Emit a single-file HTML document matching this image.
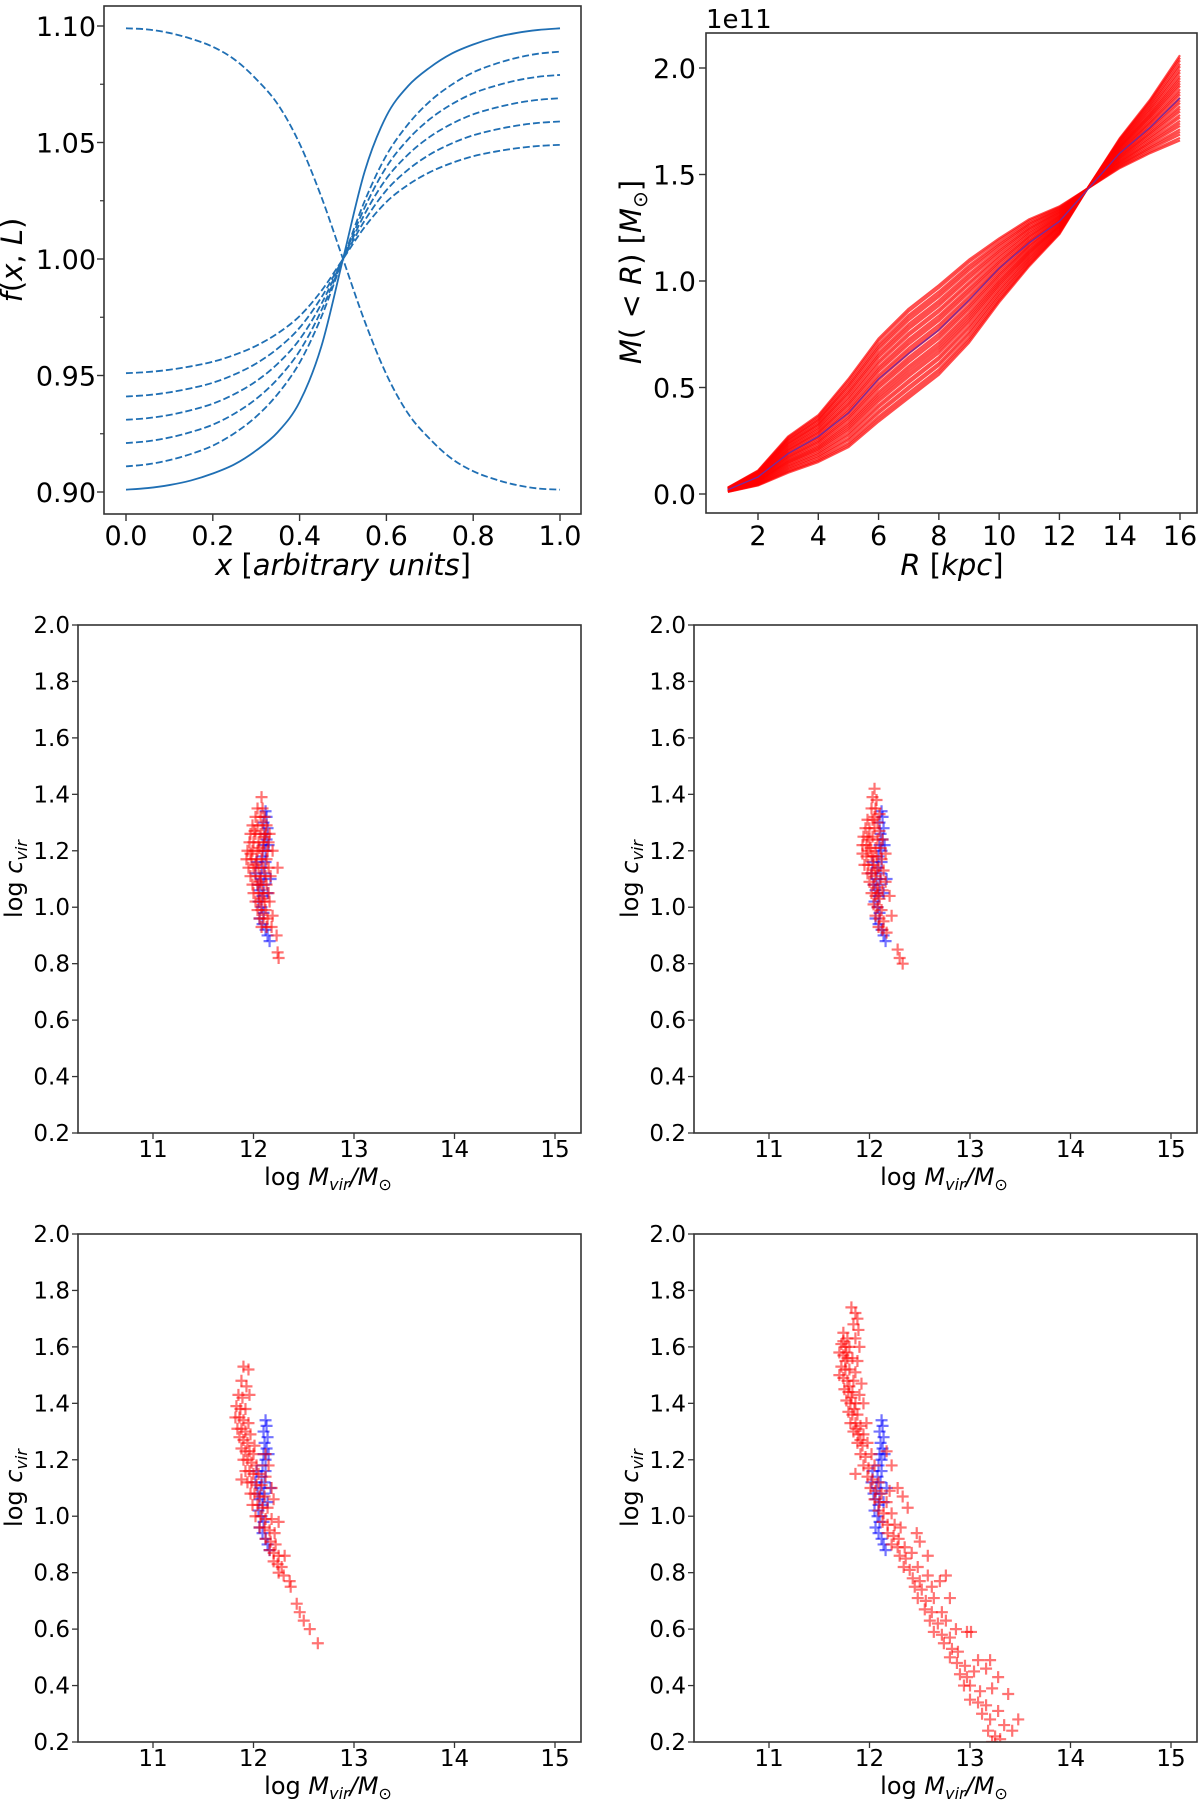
<!DOCTYPE html>
<html><head><meta charset="utf-8">
<style>
html,body{margin:0;padding:0;background:#fff;}
svg{display:block;font-family:"DejaVu Sans","Liberation Sans",sans-serif;}
</style></head>
<body>
<svg id="fig" width="1200" height="1800" viewBox="0 0 1200 1800" xmlns="http://www.w3.org/2000/svg"></svg>
<script>
// ---------- Panel 1 data: f(x,L) ----------
const p1X = [0,0.05,0.1,0.15,0.2,0.25,0.3,0.35,0.4,0.45,0.5,0.55,0.6,0.65,0.7,0.75,0.8,0.85,0.9,0.95,1.0];
const p1SolidShape = [-1,-0.993,-0.98,-0.96,-0.93,-0.89,-0.83,-0.75,-0.62,-0.38,0,0.38,0.62,0.75,0.83,0.89,0.93,0.96,0.98,0.993,1];
const p1DashShape = [-1,-0.99,-0.97,-0.94,-0.9,-0.84,-0.76,-0.65,-0.5,-0.28,0,0.28,0.5,0.65,0.76,0.84,0.9,0.94,0.97,0.99,1];
const p1DecShape = [1,0.995,0.98,0.955,0.92,0.865,0.78,0.67,0.5,0.27,0,-0.27,-0.5,-0.67,-0.78,-0.865,-0.92,-0.955,-0.98,-0.995,-1];
const p1SolidAmp = [0.099];
const p1DashAmps = [0.089,0.079,0.069,0.059,0.049];
const p1DecAmp = [0.099];
const p1YTicks = [0.90,0.95,1.00,1.05,1.10];
const p1YMinor = [0.925,0.975,1.025,1.075];
const p1XTicks = [0.0,0.2,0.4,0.6,0.8,1.0];

// ---------- Panel 2 data: M(<R) ----------
const p2R = [1,2,3,4,5,6,7,8,9,10,11,12,13,14,15,16];
const p2Upper = [0.03,0.11,0.27,0.37,0.54,0.73,0.87,0.98,1.10,1.20,1.29,1.35,1.44,1.53,1.60,1.66];
const p2Lower = [0.01,0.04,0.10,0.15,0.22,0.34,0.45,0.56,0.71,0.90,1.07,1.22,1.45,1.67,1.85,2.06];
const p2Mean = [0.02,0.08,0.19,0.27,0.38,0.54,0.66,0.77,0.91,1.06,1.18,1.28,1.44,1.60,1.72,1.86];
const p2Mix = [0,0.03,0.06,0.1,0.13,0.17,0.2,0.24,0.27,0.3,0.33,0.36,0.4,0.43,0.46,0.5,0.53,0.56,0.6,0.63,0.66,0.7,0.73,0.77,0.8,0.83,0.87,0.9,0.93,0.97,1];
const p2YTicks = [0.0,0.5,1.0,1.5,2.0];
const p2XTicks = [2,4,6,8,10,12,14,16];

// ---------- Scatter data (log Mvir, log cvir) ----------
const scXTicks = [11,12,13,14,15];
const scYTicks = [0.2,0.4,0.6,0.8,1.0,1.2,1.4,1.6,1.8,2.0];
const blueMvir = [12.12,12.13,12.10,12.14,12.11,12.13,12.10,12.12,12.09,12.12,12.08,12.11,12.07,12.10,12.06,12.09,12.05,12.08,12.10,12.06,12.09,12.12,12.14,12.16,12.04,12.02,12.03,12.15,12.17,12.14];
const blueCvir = [1.34,1.32,1.30,1.28,1.26,1.24,1.22,1.20,1.18,1.16,1.14,1.12,1.10,1.08,1.06,1.04,1.02,1.00,0.98,0.96,0.94,0.92,0.90,0.88,1.08,1.12,1.16,1.22,1.10,1.05];

const redA = [[12.08,1.39],[12.04,1.35],[12.09,1.35],[12.02,1.32],[12.07,1.32],[12.11,1.32],[11.99,1.29],[12.04,1.29],[12.09,1.29],[12.13,1.29],[11.97,1.26],[12.02,1.26],[12.07,1.26],[12.12,1.26],[12.16,1.26],[11.96,1.23],[12.00,1.23],[12.05,1.23],[12.10,1.23],[12.15,1.23],[11.94,1.20],[11.99,1.20],[12.04,1.20],[12.09,1.20],[12.14,1.20],[12.19,1.20],[11.93,1.17],[11.98,1.17],[12.03,1.17],[12.08,1.17],[12.13,1.17],[12.24,1.14],[11.95,1.14],[12.00,1.14],[12.05,1.14],[12.10,1.14],[12.15,1.14],[11.97,1.11],[12.02,1.11],[12.07,1.11],[12.12,1.11],[12.17,1.11],[11.99,1.08],[12.04,1.08],[12.08,1.08],[12.13,1.08],[12.00,1.05],[12.05,1.05],[12.10,1.05],[12.15,1.05],[12.02,1.02],[12.06,1.02],[12.11,1.02],[12.16,1.02],[12.04,0.99],[12.08,0.99],[12.12,0.99],[12.19,0.97],[12.06,0.96],[12.10,0.96],[12.14,0.96],[12.08,0.93],[12.13,0.93],[12.18,0.93],[12.23,0.90],[12.24,0.84],[12.25,0.82],[12.01,1.27],[12.06,1.21],[12.02,1.15],[12.06,1.09],[12.08,1.03],[11.97,1.19],[12.11,1.25]];
const redB = [[12.05,1.42],[12.03,1.39],[12.07,1.38],[12.02,1.35],[12.06,1.35],[12.10,1.33],[11.98,1.31],[12.03,1.31],[12.08,1.30],[11.96,1.28],[12.00,1.28],[12.05,1.28],[12.10,1.27],[11.94,1.25],[11.98,1.25],[12.03,1.25],[12.08,1.24],[12.13,1.24],[11.93,1.22],[11.97,1.22],[12.01,1.21],[12.06,1.21],[12.11,1.21],[12.16,1.19],[11.93,1.19],[11.97,1.18],[12.02,1.18],[12.07,1.18],[12.12,1.17],[11.95,1.15],[11.99,1.15],[12.04,1.15],[12.09,1.14],[12.14,1.13],[11.98,1.12],[12.02,1.12],[12.06,1.11],[12.11,1.10],[12.16,1.09],[12.00,1.09],[12.04,1.08],[12.08,1.07],[12.13,1.06],[12.02,1.05],[12.06,1.04],[12.10,1.03],[12.20,1.04],[12.04,1.01],[12.08,1.00],[12.12,0.99],[12.22,0.97],[12.06,0.97],[12.10,0.96],[12.14,0.95],[12.09,0.93],[12.13,0.92],[12.17,0.91],[12.28,0.85],[12.30,0.82],[12.33,0.80],[12.00,1.24],[12.04,1.18],[12.06,1.13],[12.08,1.05],[11.99,1.20],[12.05,1.32]];
const redC = [[11.90,1.53],[11.95,1.52],[11.88,1.48],[11.93,1.46],[11.96,1.43],[11.85,1.43],[11.89,1.42],[11.83,1.39],[11.87,1.38],[11.92,1.38],[11.82,1.35],[11.86,1.35],[11.90,1.34],[11.95,1.33],[11.84,1.31],[11.88,1.31],[11.92,1.30],[11.97,1.29],[11.86,1.28],[11.90,1.27],[11.94,1.26],[12.01,1.25],[11.88,1.24],[11.92,1.23],[11.96,1.23],[12.00,1.22],[12.12,1.22],[11.90,1.20],[11.94,1.20],[11.98,1.19],[12.03,1.18],[12.15,1.18],[11.92,1.16],[11.96,1.16],[12.00,1.15],[12.05,1.15],[12.12,1.14],[11.88,1.13],[11.94,1.12],[11.98,1.12],[12.03,1.11],[12.08,1.11],[12.18,1.10],[11.97,1.08],[12.01,1.08],[12.06,1.07],[12.11,1.07],[12.20,1.06],[11.99,1.04],[12.04,1.04],[12.09,1.03],[12.14,1.03],[12.02,1.00],[12.07,1.00],[12.12,0.99],[12.18,0.99],[12.25,0.98],[12.06,0.96],[12.11,0.96],[12.16,0.95],[12.21,0.94],[12.12,0.92],[12.17,0.91],[12.22,0.90],[12.16,0.88],[12.20,0.87],[12.25,0.86],[12.31,0.86],[12.20,0.84],[12.24,0.83],[12.28,0.82],[12.25,0.80],[12.30,0.79],[12.36,0.77],[12.37,0.75],[12.43,0.69],[12.46,0.66],[12.50,0.63],[12.56,0.60],[12.64,0.55]];
const redD = [[11.82,1.74],[11.86,1.72],[11.88,1.70],[11.84,1.68],[11.89,1.66],[11.74,1.65],[11.78,1.63],[11.86,1.63],[11.72,1.61],[11.76,1.60],[11.80,1.60],[11.90,1.60],[11.70,1.58],[11.74,1.57],[11.78,1.56],[11.83,1.56],[11.88,1.55],[11.72,1.53],[11.76,1.52],[11.80,1.52],[11.86,1.51],[11.70,1.50],[11.74,1.49],[11.78,1.48],[11.84,1.48],[11.92,1.47],[11.75,1.45],[11.79,1.44],[11.83,1.44],[11.90,1.43],[11.77,1.41],[11.81,1.40],[11.86,1.40],[11.94,1.40],[11.79,1.37],[11.83,1.36],[11.88,1.36],[11.81,1.33],[11.86,1.33],[11.91,1.32],[11.97,1.33],[11.84,1.30],[11.89,1.29],[11.94,1.29],[11.88,1.26],[11.93,1.25],[11.98,1.26],[11.91,1.22],[11.96,1.21],[12.02,1.22],[12.17,1.23],[11.94,1.18],[11.99,1.17],[12.05,1.18],[12.22,1.18],[11.86,1.15],[11.98,1.14],[12.03,1.13],[12.09,1.12],[12.01,1.10],[12.06,1.09],[12.12,1.08],[12.20,1.09],[12.28,1.10],[12.05,1.06],[12.10,1.05],[12.17,1.05],[12.33,1.07],[12.09,1.02],[12.14,1.01],[12.22,1.01],[12.38,1.03],[12.13,0.98],[12.18,0.97],[12.25,0.97],[12.31,0.96],[12.18,0.94],[12.24,0.93],[12.29,0.92],[12.47,0.94],[12.22,0.90],[12.28,0.89],[12.35,0.89],[12.50,0.91],[12.30,0.86],[12.36,0.85],[12.42,0.87],[12.58,0.86],[12.34,0.82],[12.40,0.81],[12.48,0.82],[12.43,0.78],[12.50,0.77],[12.58,0.79],[12.76,0.79],[12.45,0.75],[12.52,0.74],[12.62,0.75],[12.70,0.77],[12.48,0.71],[12.56,0.70],[12.64,0.71],[12.80,0.71],[12.55,0.67],[12.62,0.66],[12.72,0.66],[12.60,0.63],[12.68,0.62],[12.76,0.63],[12.86,0.60],[12.64,0.59],[12.72,0.58],[12.80,0.57],[12.97,0.59],[12.74,0.55],[12.82,0.53],[12.88,0.52],[13.01,0.59],[12.80,0.50],[12.87,0.48],[12.95,0.47],[13.08,0.49],[13.20,0.49],[12.90,0.44],[12.97,0.43],[13.04,0.45],[13.16,0.46],[13.28,0.43],[12.94,0.40],[13.00,0.40],[13.10,0.38],[13.22,0.39],[13.38,0.37],[13.00,0.35],[13.08,0.34],[13.16,0.33],[13.28,0.31],[13.12,0.30],[13.20,0.28],[13.34,0.26],[13.48,0.28],[13.18,0.24],[13.25,0.22],[13.30,0.21],[13.42,0.24],[13.22,0.20],[11.76,1.55],[11.80,1.46],[11.82,1.42],[11.85,1.38],[11.87,1.31],[11.91,1.27],[11.74,1.62],[11.77,1.58]];

// ---------- rendering ----------
const NS = "http://www.w3.org/2000/svg";
const svg = document.getElementById('fig');
function mk(tag, attrs, parent){
  const e = document.createElementNS(NS, tag);
  for (const k in attrs) e.setAttribute(k, attrs[k]);
  (parent||svg).appendChild(e);
  return e;
}
function txt(str, x, y, size, anchor, parent, extra){
  const t = mk('text', Object.assign({x:x, y:y, 'font-size':size, 'text-anchor':anchor||'middle', fill:'#000'}, extra||{}), parent);
  t.textContent = str;
  return t;
}
function scale(d0,d1,p0,p1){ return v => p0 + (v-d0)*(p1-p0)/(d1-d0); }
function catmull(pts){
  let d = 'M'+pts[0][0].toFixed(2)+','+pts[0][1].toFixed(2);
  for (let i=0;i<pts.length-1;i++){
    const p0=pts[Math.max(0,i-1)], p1=pts[i], p2=pts[i+1], p3=pts[Math.min(pts.length-1,i+2)];
    const c1=[p1[0]+(p2[0]-p0[0])/6, p1[1]+(p2[1]-p0[1])/6];
    const c2=[p2[0]-(p3[0]-p1[0])/6, p2[1]-(p3[1]-p1[1])/6];
    d += ' C'+c1[0].toFixed(2)+','+c1[1].toFixed(2)+' '+c2[0].toFixed(2)+','+c2[1].toFixed(2)+' '+p2[0].toFixed(2)+','+p2[1].toFixed(2);
  }
  return d;
}
function frame(g, L, T, R, B){
  const f = mk('rect', {x:L, y:T, width:R-L, height:B-T, fill:'none', stroke:'#333', 'stroke-width':1.6}, g);
  
  
}

// ===== Panel 1 =====
(function(){
  const g = mk('g', {});
  
  
  const L=104,R=581,T=6,B=514;
  const sx = scale(0,1,126,560), sy = scale(0.90,1.10,492,26);
  const color = '#1f6fb4';
  function curve(shape, amp, dashed, name){
    const pts = p1X.map((x,i)=>[sx(x), sy(1+amp*shape[i])]);
    const p = mk('path', {d:catmull(pts), fill:'none', stroke:color, 'stroke-width':1.8}, g);
    if (dashed) p.setAttribute('stroke-dasharray','7,3');
    
    
  }
  p1DashAmps.forEach((a,i)=>curve(p1DashShape, a, true, 'dashed-curve-'+(i+1)));
  curve(p1SolidShape, p1SolidAmp[0], false, 'solid-curve');
  curve(p1DecShape, p1DecAmp[0], true, 'decreasing-dashed-curve');
  frame(g,L,T,R,B);
  p1YTicks.forEach(v=>{
    mk('line',{x1:L-7,x2:L,y1:sy(v),y2:sy(v),stroke:'#333','stroke-width':1.4},g);
    const t = txt(v.toFixed(2), L-8, sy(v)+10, 27, 'end', g);
    
    
  });
  p1YMinor.forEach(v=>mk('line',{x1:L-4,x2:L,y1:sy(v),y2:sy(v),stroke:'#333','stroke-width':1.2},g));
  p1XTicks.forEach(v=>{
    mk('line',{x1:sx(v),x2:sx(v),y1:B,y2:B+7,stroke:'#333','stroke-width':1.4},g);
    const t = txt(v.toFixed(1), sx(v), B+31, 27, 'middle', g);
    
    
  });
  const xl = txt('', 343, 575, 29, 'middle', g);
  xl.innerHTML = '<tspan font-style="italic">x</tspan> [<tspan font-style="italic">arbitrary units</tspan>]';
  
  
  const yl = txt('', 0, 0, 29, 'middle', g, {transform:'translate(22,260) rotate(-90)'});
  yl.innerHTML = '<tspan font-style="italic">f</tspan>(<tspan font-style="italic">x</tspan>, <tspan font-style="italic">L</tspan>)';
  
  
})();

// ===== Panel 2 =====
(function(){
  const g = mk('g', {});
  
  
  const L=706,R=1197,T=33,B=513;
  const sx = scale(2,16,758,1180), sy = scale(0,2.0,494,68);
  p2Mix.forEach((m,k)=>{
    const pts = p2R.map((r,i)=>[sx(r), sy(p2Lower[i]+(p2Upper[i]-p2Lower[i])*m)]);
    const p = mk('polyline',{points:pts.map(p=>p.join(',')).join(' '),fill:'none',stroke:'rgba(255,0,0,0.7)','stroke-width':2.2,'stroke-linejoin':'round'},g);
    
    
  });
  const mp = p2R.map((r,i)=>[sx(r), sy(p2Mean[i])]);
  const ml = mk('polyline',{points:mp.map(p=>p.join(',')).join(' '),fill:'none',stroke:'#7a2a9a','stroke-width':1.4},g);
  
  
  frame(g,L,T,R,B);
  p2YTicks.forEach(v=>{
    mk('line',{x1:L-7,x2:L,y1:sy(v),y2:sy(v),stroke:'#333','stroke-width':1.4},g);
    const t = txt(v.toFixed(1), L-10, sy(v)+10, 27, 'end', g);
    
    
  });
  p2XTicks.forEach(v=>{
    mk('line',{x1:sx(v),x2:sx(v),y1:B,y2:B+7,stroke:'#333','stroke-width':1.4},g);
    const t = txt(String(v), sx(v), B+32, 27, 'middle', g);
    
    
  });
  const off = txt('1e11', 706, 28, 26, 'start', g);
  
  
  const xl = txt('', 952, 575, 29, 'middle', g);
  xl.innerHTML = '<tspan font-style="italic">R</tspan> [<tspan font-style="italic">kpc</tspan>]';
  
  
  const yl = txt('', 0, 0, 29, 'middle', g, {transform:'translate(641,272) rotate(-90)'});
  yl.innerHTML = '<tspan font-style="italic">M</tspan>( &lt; <tspan font-style="italic">R</tspan>) [<tspan font-style="italic">M</tspan><tspan font-size="20" dy="6">⊙</tspan><tspan dy="-6">]</tspan>';
  
  
})();

// ===== Scatter panels =====
function scatterPanel(name, L, T, red){
  const R = L+503, B = T+508;
  const g = mk('g', {});
  
  
  const x11 = L+75;
  const sx = scale(11,15,x11,x11+402), sy = scale(0.2,2.0,B,T);
  const clip = mk('clipPath',{id:'c'+name},g);
  mk('rect',{x:L,y:T,width:R-L,height:B-T},clip);
  const pg = mk('g',{'clip-path':'url(#c'+name+')'},g);
  function plus(x,y,col,nm){
    const px=sx(x), py=sy(y), h=6;
    const p = mk('path',{d:'M'+(px-h)+','+py+'H'+(px+h)+'M'+px+','+(py-h)+'V'+(py+h),stroke:col,'stroke-width':2.2,fill:'none'},pg);
    
    
  }
  blueMvir.forEach((x,i)=>plus(x, blueCvir[i], 'rgba(0,0,255,0.55)', 'blue-point'));
  red.forEach(pt=>plus(pt[0], pt[1], 'rgba(255,0,0,0.55)', 'red-point'));
  frame(g,L,T,R,B);
  scYTicks.forEach(v=>{
    mk('line',{x1:L-6,x2:L,y1:sy(v),y2:sy(v),stroke:'#333','stroke-width':1.3},g);
    const t = txt(v.toFixed(1), L-8, sy(v)+8, 23, 'end', g);
    
    
  });
  scXTicks.forEach(v=>{
    mk('line',{x1:sx(v),x2:sx(v),y1:B,y2:B+6,stroke:'#333','stroke-width':1.3},g);
    const t = txt(String(v), sx(v), B+24, 23, 'middle', g);
    
    
  });
  const xl = txt('', L+250, B+52, 24, 'middle', g);
  xl.innerHTML = 'log  <tspan font-style="italic">M</tspan><tspan font-size="16" font-style="italic" dy="5">vir</tspan><tspan dy="-5" font-style="italic">/M</tspan><tspan font-size="16" dy="5">⊙</tspan>';
  
  
  const yl = txt('', 0, 0, 24, 'middle', g, {transform:'translate('+(L-56)+','+(sy(1.1))+') rotate(-90)'});
  yl.innerHTML = 'log  <tspan font-style="italic">c</tspan><tspan font-size="16" font-style="italic" dy="5">vir</tspan>';
  
  
}
scatterPanel('scatter-panel-a', 78, 625, redA);
scatterPanel('scatter-panel-b', 694, 625, redB);
scatterPanel('scatter-panel-c', 78, 1234, redC);
scatterPanel('scatter-panel-d', 694, 1234, redD);
</script>
</body></html>
